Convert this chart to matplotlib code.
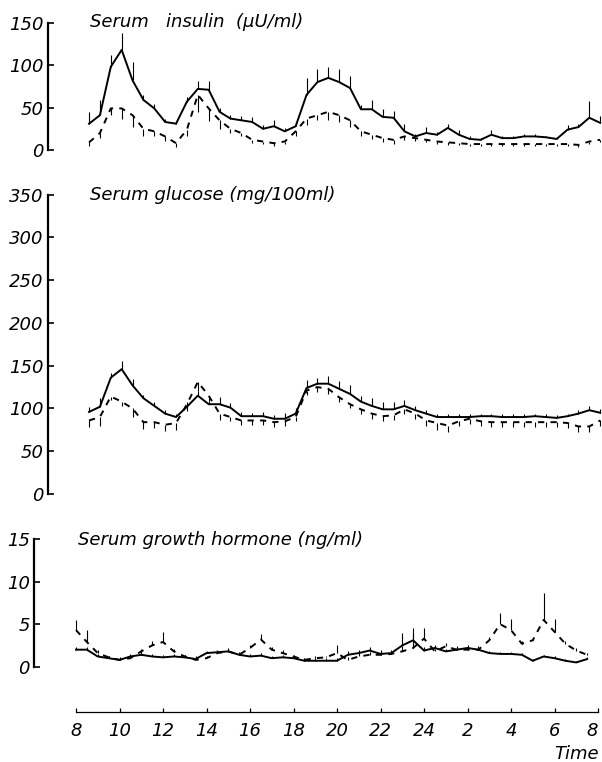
import numpy as np
import matplotlib
matplotlib.use("Agg")
import matplotlib.pyplot as plt

plt.rcParams['font.family'] = ['DejaVu Sans']
plt.rcParams['font.style'] = 'oblique'

# ---- data (hours after 08:00) ----
t_main = 0.6 + 0.5 * np.arange(48)   # sampling every 30 min, panels 1-2
t_gh = 0.0 + 0.5 * np.arange(48)     # sampling every 30 min, panel 3

ins_solid = [31, 41, 98, 118, 82, 59, 49, 33, 31, 57, 72, 71, 45, 37, 35, 33, 25, 28, 22, 28,
             65, 80, 85, 80, 73, 48, 48, 39, 38, 22, 16, 20, 18, 26, 18, 13, 12, 18, 14, 14,
             16, 16, 15, 13, 24, 27, 38, 32]
ins_solid_err = [14, 18, 14, 20, 22, 6, 5, 4, 3, 6, 9, 10, 5, 4, 5, 6, 4, 7, 4, 5,
                 20, 16, 13, 16, 14, 5, 11, 9, 8, 9, 3, 7, 3, 5, 5, 3, 2, 5, 2, 2,
                 3, 3, 2, 2, 5, 4, 20, 8]
ins_dash = [9, 20, 49, 49, 41, 25, 22, 16, 8, 24, 65, 49, 35, 25, 20, 12, 10, 8, 10, 22,
            37, 41, 45, 41, 35, 22, 18, 14, 12, 16, 14, 12, 10, 9, 8, 7, 7, 7, 7, 7,
            7, 7, 7, 7, 7, 6, 10, 12]
ins_dash_err = [4, 6, 8, 12, 14, 8, 6, 5, 4, 8, 20, 15, 10, 5, 4, 4, 3, 3, 3, 6,
                8, 6, 10, 8, 8, 6, 5, 5, 5, 4, 3, 3, 3, 3, 2, 2, 2, 2, 2, 2,
                2, 2, 2, 2, 2, 2, 3, 3]

glu_solid = [96, 102, 136, 146, 127, 112, 103, 94, 90, 102, 115, 105, 105, 101, 91, 91, 91, 88, 88, 94,
             124, 129, 129, 123, 117, 108, 103, 99, 99, 103, 98, 94, 90, 90, 90, 90, 91, 91, 90, 90,
             90, 91, 90, 89, 91, 94, 98, 95]
glu_solid_err = [6, 10, 5, 10, 8, 4, 5, 4, 3, 6, 5, 4, 8, 5, 5, 4, 5, 4, 7, 6,
                 9, 7, 9, 9, 10, 7, 9, 8, 9, 7, 5, 4, 4, 3, 3, 3, 3, 3, 3, 3,
                 3, 3, 3, 3, 3, 4, 5, 4]
glu_dash = [86, 90, 114, 108, 100, 84, 84, 81, 83, 105, 131, 115, 94, 90, 86, 86, 86, 84, 85, 90,
            121, 125, 123, 113, 105, 99, 94, 91, 92, 99, 94, 86, 83, 80, 85, 88, 85, 84, 84, 84,
            84, 84, 84, 84, 83, 79, 79, 86]
glu_dash_err = [8, 10, 4, 5, 10, 8, 7, 7, 8, 8, 10, 6, 8, 5, 5, 5, 5, 6, 6, 5,
                5, 6, 6, 5, 5, 6, 6, 6, 6, 6, 6, 6, 8, 8, 6, 6, 6, 6, 6, 6,
                6, 6, 6, 6, 6, 7, 7, 6]

gh_solid = [2.0, 2.0, 1.2, 1.0, 0.8, 1.2, 1.4, 1.2, 1.1, 1.2, 1.1, 0.9, 1.6, 1.7, 1.8, 1.4,
            1.2, 1.3, 1.0, 1.1, 1.0, 0.7, 0.7, 0.7, 0.7, 1.4, 1.6, 1.9, 1.5, 1.6, 2.5, 3.1,
            1.9, 2.2, 1.8, 2.0, 2.2, 2.0, 1.6, 1.5, 1.5, 1.4, 0.7, 1.2, 1.0, 0.7, 0.5, 0.9]
gh_solid_err = [0.3, 0.3, 0.3, 0.3, 0.3, 0.3, 0.4, 0.3, 0.3, 0.3, 0.3, 0.3, 0.3, 0.3, 0.4, 0.3,
                0.3, 0.3, 0.3, 0.3, 0.3, 0.3, 0.3, 0.3, 0.3, 0.4, 0.4, 0.4, 0.5, 0.4, 1.5, 1.4,
                0.4, 0.4, 0.3, 0.4, 0.4, 0.4, 0.2, 0.2, 0.2, 0.2, 0.2, 0.2, 0.2, 0.2, 0.2, 0.2]
gh_dash = [4.3, 2.9, 1.6, 1.1, 0.8, 1.0, 1.8, 2.5, 2.9, 1.8, 1.2, 0.8, 1.0, 1.6, 1.8, 1.4,
           2.2, 3.2, 2.0, 1.6, 1.2, 0.8, 1.0, 1.1, 1.6, 0.8, 1.2, 1.4, 1.4, 1.5, 1.8, 2.2,
           3.3, 1.8, 2.4, 2.0, 2.0, 2.0, 3.1, 5.0, 4.3, 2.7, 3.1, 5.5, 4.1, 2.7, 1.9, 1.4]
gh_dash_err = [1.2, 1.4, 0.4, 0.2, 0.2, 0.2, 0.3, 0.5, 1.2, 0.3, 0.2, 0.2, 0.3, 0.2, 0.2, 0.2,
               0.3, 0.7, 0.3, 0.4, 0.2, 0.2, 0.2, 0.2, 1.0, 0.3, 0.5, 0.3, 0.3, 0.3, 0.6, 1.6,
               1.2, 0.3, 0.4, 0.3, 0.3, 0.3, 0.4, 1.3, 1.3, 0.3, 0.3, 3.1, 1.5, 0.3, 0.3, 0.2]

x_ticks = [0, 2, 4, 6, 8, 10, 12, 14, 16, 18, 20, 22, 24]
x_ticklabels = ['8', '10', '12', '14', '16', '18', '20', '22', '24', '2', '4', '6', '8']

titles = ['Serum   insulin  (\u03bcU/ml)', 'Serum glucose (mg/100ml)', 'Serum growth hormone (ng/ml)']

# ---- layout helpers ----
W, H = 602, 762
X0, PXH = 76.0, 21.75  # pixel of hour 0 and pixels per hour

fig = plt.figure(figsize=(W / 100, H / 100), dpi=100)


def make_ax(left, right, top, bottom):
    ax = fig.add_axes([left / W, 1 - bottom / H, (right - left) / W, (bottom - top) / H])
    ax.set_xlim((left - X0) / PXH, (right - X0) / PXH)
    ax.patch.set_alpha(0)
    for s in ['top', 'right']:
        ax.spines[s].set_visible(False)
    ax.spines['left'].set_linewidth(1.6)
    ax.tick_params(axis='y', direction='in', length=4, width=1.2, labelsize=13, pad=3)
    return ax


def draw(ax, t, ys, es, yd, ed, dash_up):
    ys = np.asarray(ys); es = np.asarray(es)
    yd = np.asarray(yd); ed = np.asarray(ed)
    ax.plot(t, ys, color='black', lw=1.4, solid_joinstyle='round', clip_on=False)
    ax.vlines(t, ys, ys + es, color='black', lw=0.8, clip_on=False)
    ax.plot(t, yd, color='black', lw=1.4, linestyle=(0, (3.2, 3.2)), clip_on=False)
    if dash_up:
        ax.vlines(t, yd, yd + ed, color='black', lw=0.8, clip_on=False)
    else:
        ax.vlines(t, yd - ed, yd, color='black', lw=0.8, clip_on=False)


# Panel 1: insulin
ax1 = make_ax(47.7, 600, 22.7, 150)
ax1.set_ylim(0, 150)
ax1.set_yticks([0, 50, 100, 150])
ax1.spines['bottom'].set_visible(False)
ax1.set_xticks([])
draw(ax1, t_main, ins_solid, ins_solid_err, ins_dash, ins_dash_err, dash_up=False)
fig.text(90 / W, 1 - 22 / H, titles[0], fontsize=13, style='oblique', va='center', ha='left')

# Panel 2: glucose
ax2 = make_ax(47.7, 600, 194.7, 494)
ax2.set_ylim(0, 350)
ax2.set_yticks([0, 50, 100, 150, 200, 250, 300, 350])
ax2.spines['bottom'].set_visible(False)
ax2.set_xticks([])
draw(ax2, t_main, glu_solid, glu_solid_err, glu_dash, glu_dash_err, dash_up=False)
fig.text(90 / W, 1 - 195 / H, titles[1], fontsize=13, style='oblique', va='center', ha='left')

# Panel 3: growth hormone
ax3 = make_ax(34, 600, 539, 712)
ax3.set_ylim(-5.32, 15)
ax3.set_yticks([0, 5, 10, 15])
ax3.spines['left'].set_bounds(0, 15)
ax3.spines['bottom'].set_bounds(0, 24)
ax3.spines['bottom'].set_linewidth(0.9)
ax3.set_xticks(x_ticks)
ax3.set_xticklabels(x_ticklabels)
ax3.tick_params(axis='x', direction='in', length=3, width=0.9, labelsize=13, pad=7)
last = ax3.get_xticklabels()[-1]
last.set_horizontalalignment('right')
draw(ax3, t_gh, gh_solid, gh_solid_err, gh_dash, gh_dash_err, dash_up=True)
fig.text(78 / W, 1 - 540 / H, titles[2], fontsize=13, style='oblique', va='center', ha='left')
fig.text(577 / W, 1 - 754 / H, 'Time', fontsize=13, style='oblique', va='center', ha='center')

fig.savefig('out.png', dpi=100)
